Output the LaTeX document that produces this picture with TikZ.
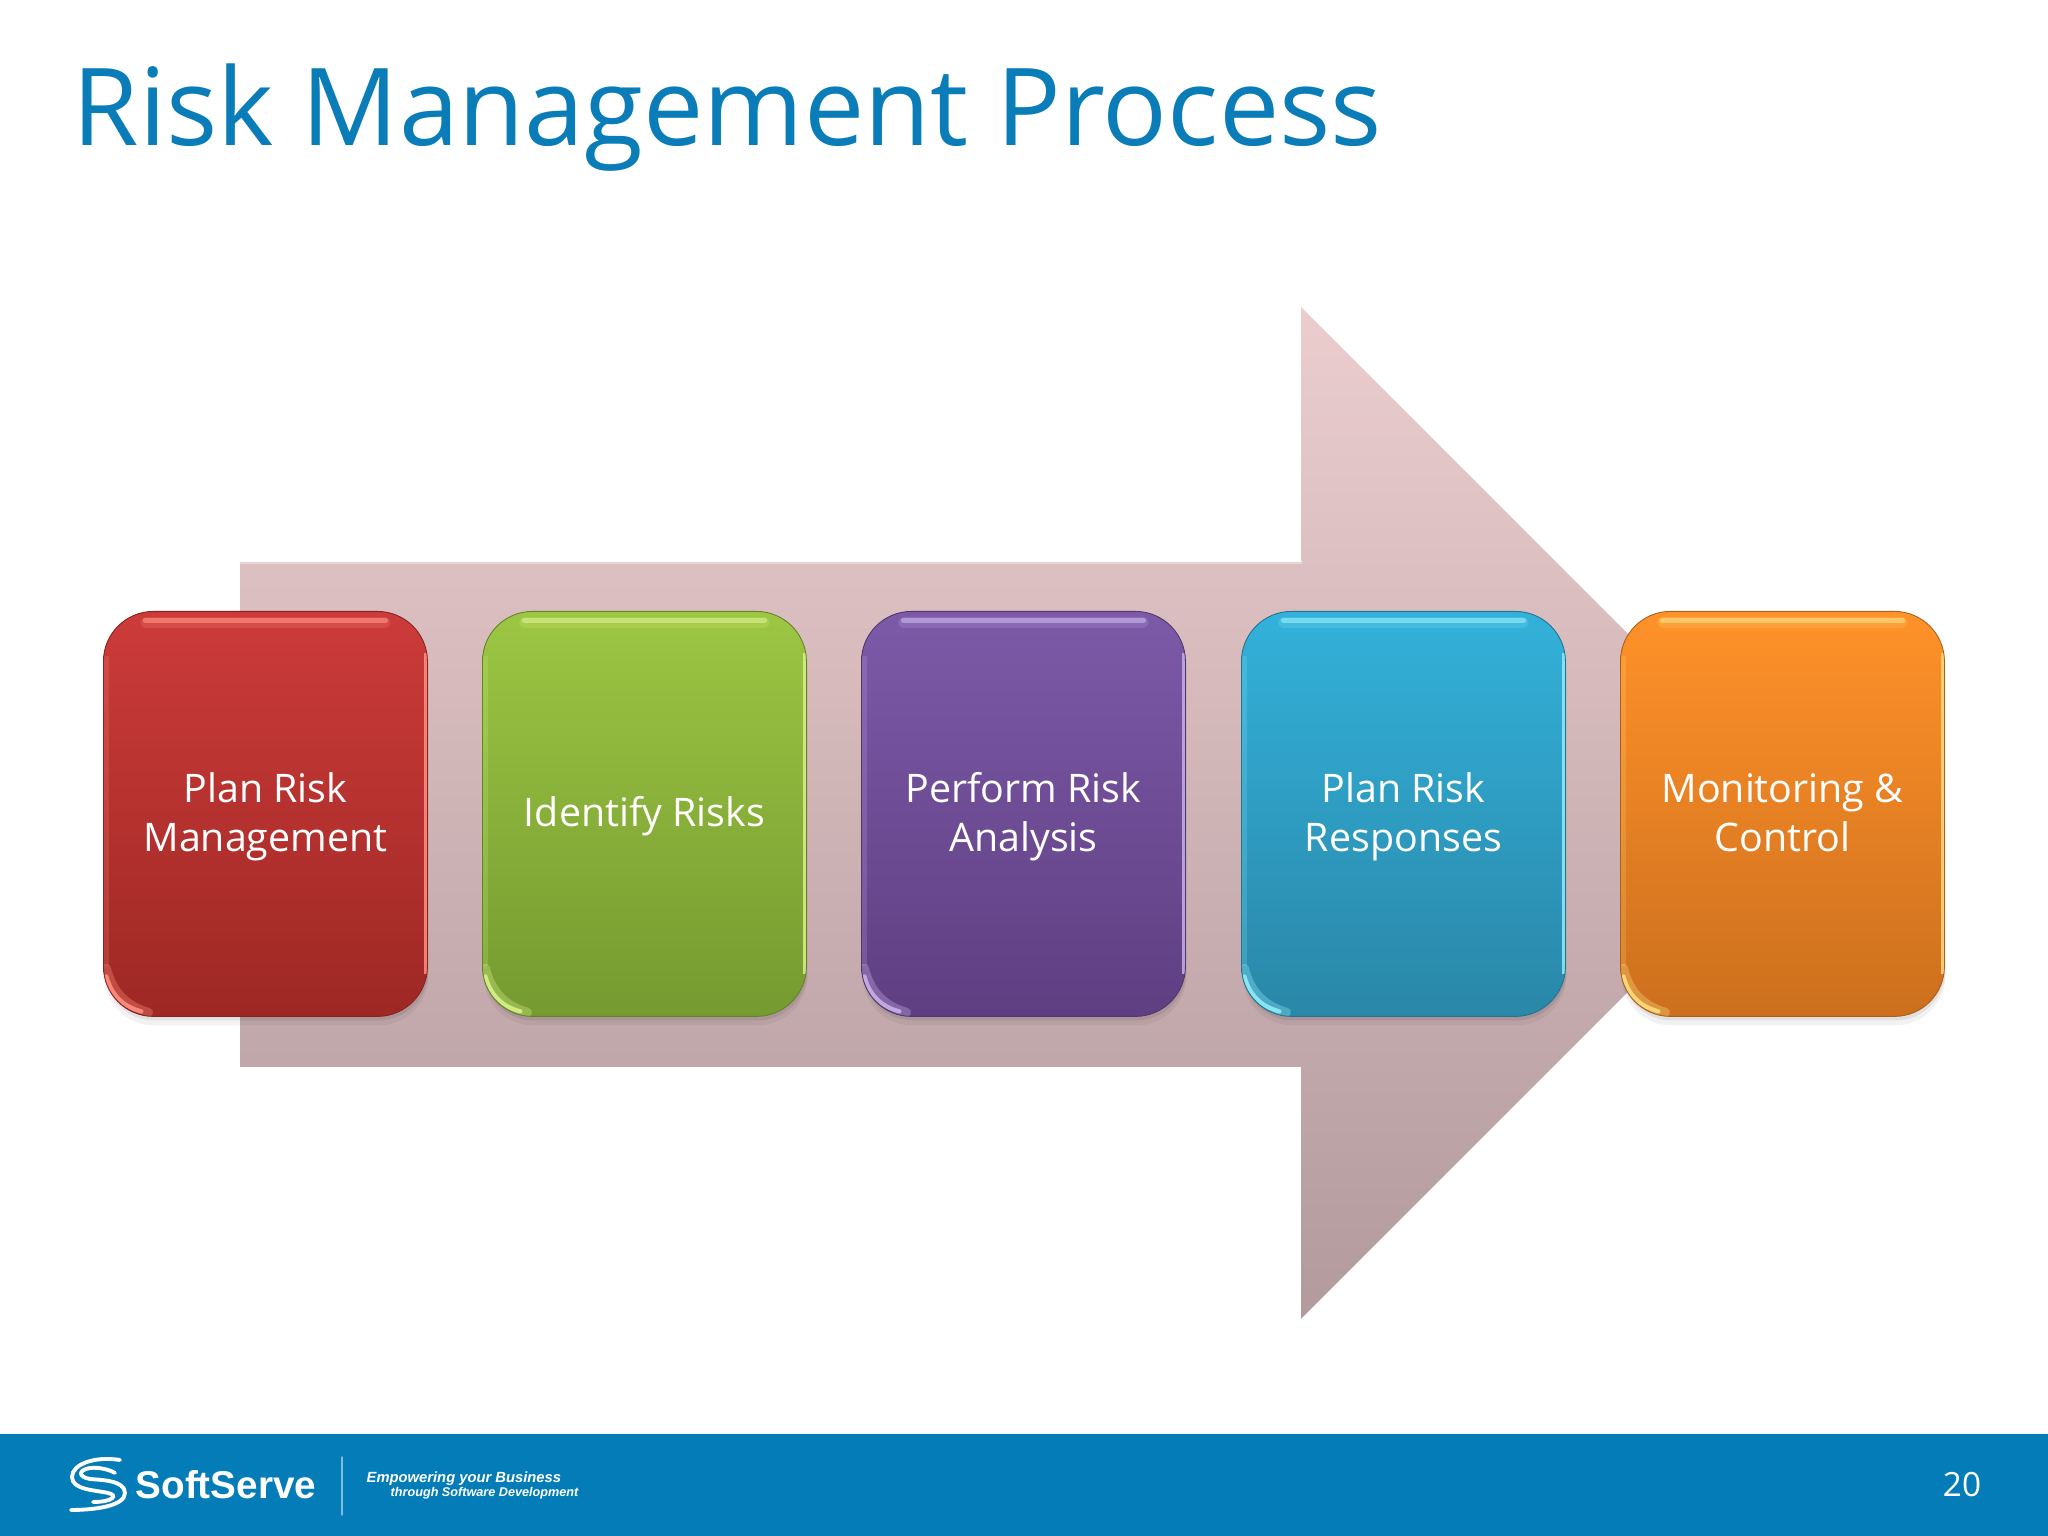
\documentclass[tikz,border=0pt]{standalone}
\usepackage{fontspec}
\setmainfont{Open Sans}
\newfontfamily\logofont{Liberation Sans}
\usepackage{tikz}
\usepackage{tkz-euclide}
\usetikzlibrary{calc}
\usetikzlibrary{shadows}

\definecolor{bandblue}{HTML}{047CB8}
\definecolor{titleblue}{HTML}{0A7DB8}
\definecolor{arrowtop}{HTML}{EBCDCE}
\definecolor{arrowbot}{HTML}{B29A9D}
\definecolor{redtop}{HTML}{CC3B3A}
\definecolor{redbot}{HTML}{9E2824}
\definecolor{redlight}{HTML}{FF8F80}
\definecolor{greentop}{HTML}{9CC643}
\definecolor{greenbot}{HTML}{759A30}
\definecolor{greenlight}{HTML}{D8F08A}
\definecolor{violettop}{HTML}{7C5AA8}
\definecolor{violetbot}{HTML}{5F3F82}
\definecolor{violetlight}{HTML}{C8B0E8}
\definecolor{bluetop}{HTML}{33B1DA}
\definecolor{bluebot}{HTML}{2A87A8}
\definecolor{bluelight}{HTML}{90ECFA}
\definecolor{orangetop}{HTML}{FF9229}
\definecolor{orangebot}{HTML}{CC6F1E}
\definecolor{orangelight}{HTML}{FFDD80}

\newcommand{\liftline}{\rule{0pt}{10pt}}

\tikzset{
    riskbox/.style n args={3}{
        rounded corners=0.5cm, minimum width=3.24cm, minimum height=4.05cm,
        anchor=north west, inner sep=0pt, align=center, text=white,
        font=\fontsize{11.2}{13.9}\selectfont,
        execute at end node={\vphantom{g}},
        top color=#1, bottom color=#2,
        draw=#2!85!black, line width=0.25pt,
        general shadow={fill=black, opacity=0.05, shadow xshift=0.01cm, shadow yshift=-0.09cm},
        general shadow={fill=black, opacity=0.07, shadow xshift=0.01cm, shadow yshift=-0.04cm},
        path picture={
            \draw[#3, line width=3pt, opacity=0.2, line cap=round]
                ([shift={(0.42,-0.11)}]path picture bounding box.north west) --
                ([shift={(-0.42,-0.11)}]path picture bounding box.north east);
            \draw[#3, line width=1.5pt, opacity=0.65, line cap=round]
                ([shift={(0.42,-0.09)}]path picture bounding box.north west) --
                ([shift={(-0.42,-0.09)}]path picture bounding box.north east);
            \draw[#3, line width=2.6pt, opacity=0.35, line cap=round]
                ([shift={(0.03,0.48)}]path picture bounding box.south west) to[bend right=30]
                ([shift={(0.45,0.04)}]path picture bounding box.south west);
            \draw[#3, line width=1.2pt, opacity=0.9, line cap=round]
                ([shift={(0.03,0.4)}]path picture bounding box.south west) to[bend right=30]
                ([shift={(0.38,0.05)}]path picture bounding box.south west);
            \draw[#3, line width=1.2pt, opacity=0.85]
                ([shift={(-0.01,-0.42)}]path picture bounding box.north east) --
                ([shift={(-0.01,0.42)}]path picture bounding box.south east);
            \draw[#3, line width=1.2pt, opacity=0.2]
                ([shift={(0.03,-0.45)}]path picture bounding box.north west) --
                ([shift={(0.03,0.5)}]path picture bounding box.south west);
        },
    },
    tagtext/.style={text=white, inner sep=0pt, anchor=west},
    logoline/.style={white, line width=1.1pt, line cap=round},
}

\begin{document}
\begin{tikzpicture}
    \useasboundingbox (0,0) rectangle (20.48,15.36);

    % big arrow
    \tkzDefPoint(2.40,9.74){E1}
    \tkzDefPoint(13.01,9.74){E2}
    \tkzDefPoint(13.01,12.29){E3}
    \tkzDefPoint(18.07,7.23){E4}
    \tkzDefPoint(13.01,2.17){E5}
    \tkzDefPoint(13.01,4.69){E6}
    \tkzDefPoint(2.40,4.69){E7}
    \shade[top color=arrowtop, bottom color=arrowbot]
        (E1) -- (E2) -- (E3) -- (E4) -- (E5) -- (E6) -- (E7) -- cycle;
    \tkzDrawSegment[white, opacity=0.35, line width=1pt](E1,E2)

    % process boxes
    \node[riskbox={redtop}{redbot}{redlight}] (plan) at (1.03,9.25) {\liftline Plan Risk\\Management};
    \node[riskbox={greentop}{greenbot}{greenlight}] (identify) at (4.82,9.25) {\liftline Identify Risks};
    \node[riskbox={violettop}{violetbot}{violetlight}] (perform) at (8.61,9.25) {\liftline Perform Risk\\Analysis};
    \node[riskbox={bluetop}{bluebot}{bluelight}] (responses) at (12.41,9.25) {\liftline Plan Risk\\Responses};
    \node[riskbox={orangetop}{orangebot}{orangelight}] (control) at (16.20,9.25) {\liftline Monitoring \&\\Control};

    % title
    \node[text=titleblue, font=\fontsize{30.6}{36}\selectfont, inner sep=0pt, anchor=base west] (title) at (0.72,13.90) {Risk Management Process};

    % footer
    \fill[bandblue] (0,0) rectangle (20.48,1.02);
    \tkzDefPoint(3.42,0.21){L1}
    \tkzDefPoint(3.42,0.79){L2}
    \tkzDrawSegment[white!50!bandblue, thin](L1,L2)
    \node[white, inner sep=0pt, anchor=west, font=\logofont\fontsize{11}{12}\bfseries\selectfont] (brand) at (1.35,0.51) {SoftServe};
    \node[tagtext, font=\logofont\fontsize{4.2}{5}\bfseries\itshape\selectfont] (tag1) at (3.66,0.575) {Empowering your Business};
    \node[tagtext, font=\logofont\fontsize{3.6}{5}\bfseries\itshape\selectfont] (tag2) at (3.9,0.43) {through Software Development};
    \node[white, inner sep=0pt, font=\fontsize{9.5}{12}\selectfont] (pagenum) at (19.62,0.51) {20};

    % logo
    \draw[logoline] (1.2,0.76) .. controls (0.95,0.8) and (0.72,0.72) .. (0.72,0.59) .. controls (0.72,0.46) and (0.95,0.46) .. (1.08,0.43) .. controls (1.18,0.41) and (1.14,0.34) .. (0.93,0.34);
    \draw[logoline] (0.71,0.26) .. controls (0.95,0.26) and (1.25,0.3) .. (1.25,0.43) .. controls (1.25,0.56) and (1.0,0.56) .. (0.9,0.57) .. controls (0.78,0.59) and (0.78,0.66) .. (0.9,0.68) .. controls (1.0,0.69) and (1.1,0.66) .. (1.15,0.63);
\end{tikzpicture}
\end{document}
